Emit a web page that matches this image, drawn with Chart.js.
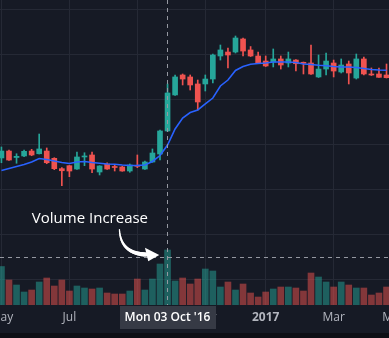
<!DOCTYPE html>
<html><head><meta charset="utf-8">
<script src="https://cdn.jsdelivr.net/npm/chart.js@4/dist/chart.umd.min.js"></script>
<style>
html,body{margin:0;padding:0;background:#0d0f15;overflow:hidden;width:389px;height:338px;}
#c{display:block;}
</style></head><body>
<canvas id="c" width="389" height="333"></canvas>
<script>
// Weekly bars (Mondays)
const weeks = ['2016-05-02','2016-05-09','2016-05-16','2016-05-23','2016-05-30','2016-06-06','2016-06-13','2016-06-20','2016-06-27',
'2016-07-04','2016-07-11','2016-07-18','2016-07-25','2016-08-01','2016-08-08','2016-08-15','2016-08-22','2016-08-29',
'2016-09-05','2016-09-12','2016-09-19','2016-09-26','2016-10-03','2016-10-10','2016-10-17','2016-10-24','2016-10-31',
'2016-11-07','2016-11-14','2016-11-21','2016-11-28','2016-12-05','2016-12-12','2016-12-19','2016-12-26',
'2017-01-02','2017-01-09','2017-01-16','2017-01-23','2017-01-30','2017-02-06','2017-02-13','2017-02-20','2017-02-27',
'2017-03-06','2017-03-13','2017-03-20','2017-03-27','2017-04-03','2017-04-10','2017-04-17','2017-04-24','2017-05-01'];

const opens  = [23.56,24.33,23.61,23.78,24.33,24.03,24.33,23.52,22.37,22.70,22.33,23.67,23.89,22.00,22.89,22.59,22.56,22.11,22.74,22.33,23.11,24.00,26.56,30.56,32.78,32.56,31.78,31.78,32.33,34.89,35.33,35.33,36.78,35.56,34.89,34.33,34.22,34.56,34.11,34.44,34.19,34.11,32.56,33.44,34.11,33.11,34.00,32.44,34.56,32.89,32.89,32.78];
const highs  = [24.78,24.44,24.03,24.44,24.52,26.22,24.67,23.59,22.48,22.72,24.22,24.14,24.22,22.70,23.03,22.78,22.63,22.89,23.89,23.22,24.56,26.67,31.78,32.78,32.89,32.78,32.22,32.78,35.11,36.11,35.78,37.11,36.89,35.94,35.33,34.89,35.67,34.89,35.33,34.50,34.22,36.11,35.00,35.22,34.44,34.56,34.33,35.11,34.78,33.56,33.56,34.00];
const lows   = [23.03,23.28,22.97,23.70,23.81,24.00,22.92,22.26,20.48,21.48,22.30,22.70,21.92,21.67,22.30,22.11,22.08,21.97,22.48,22.30,23.08,23.33,26.50,30.50,31.67,31.11,28.89,31.00,31.89,34.44,33.56,35.22,34.89,34.83,34.06,33.72,33.67,33.44,33.67,33.22,32.89,32.83,32.50,32.78,32.56,33.00,31.78,32.33,32.78,32.72,32.50,32.44];
const closes = [24.33,23.33,23.74,24.30,23.89,24.56,23.03,22.37,22.14,22.11,23.67,23.78,22.33,22.67,22.33,22.50,22.11,22.78,22.63,23.11,24.11,26.56,30.78,32.56,32.33,31.67,29.78,32.33,35.00,35.56,35.00,36.89,35.44,34.89,34.11,33.78,34.56,33.89,34.56,34.03,34.08,32.89,33.44,34.33,33.22,33.89,33.00,34.56,32.89,32.78,32.52,32.48];
const volumes = [7.7,5.0,4.0,2.6,3.0,4.6,5.4,3.8,5.0,2.8,3.8,3.4,3.2,3.4,2.4,2.2,2.2,2.8,5.2,3.0,5.2,8.2,11.0,4.8,5.4,4.2,5.2,7.2,6.8,3.6,4.6,3.0,4.2,2.4,1.6,2.6,3.2,3.6,3.6,3.4,2.8,6.4,5.6,4.6,3.6,4.6,4.0,3.4,3.4,2.0,2.4,3.6];
const movingAvg = [22.17,22.39,22.61,22.83,23.11,23.50,23.39,23.22,23.06,22.94,23.11,23.17,23.06,22.97,22.89,22.86,22.78,22.72,22.74,22.78,23.17,23.83,25.00,26.78,28.00,28.61,28.89,29.56,30.22,31.56,32.22,33.28,33.72,33.97,34.06,34.11,34.22,34.22,34.22,34.17,34.00,33.94,33.86,33.80,33.72,33.67,33.67,33.61,33.50,33.39,33.33,33.30];

const tickWeeks  = ['2016-05-02','2016-07-04','2016-09-05','2016-11-07','2017-01-02','2017-03-06','2017-05-01'];
const tickLabels = ['May','Jul','Sep','Nov','2017','Mar','May'];
const boldLabels = ['2017'];
const priceGrid  = [10,15,20,25,30,35,40];

const crosshairWeek = '2016-10-03';
const crosshairLabel = "Mon 03 Oct '16";
const crosshairVolume = 9.6;
const noteText = 'Volume Increase';
const noteWeek = '2016-10-03';
const noteVolume = 10;

const UP = '#26a69a', DOWN = '#ef5350';
const UPV = 'rgba(38,166,154,0.5)', DOWNV = 'rgba(239,83,80,0.5)';
const BG = '#161a25', GRID = '#252935', AXIS_TEXT = '#b2b5be';
const FONT = "'Open Sans', 'DejaVu Sans', sans-serif";

const idx = opens.map((_, i) => i);
const isUp = idx.map(i => closes[i] >= opens[i]);

const bgPlugin = {
  id: 'bg',
  beforeDraw(chart) {
    const c = chart.ctx;
    c.save(); c.fillStyle = BG; c.fillRect(0, 0, chart.width, chart.height); c.restore();
  }
};

const overlay = {
  id: 'overlay',
  afterDatasetsDraw(chart) {
    const { ctx, chartArea: a, scales } = chart;
    const x = scales.x, v = scales.v;
    const cx = Math.round(x.getPixelForValue(weeks.indexOf(crosshairWeek)) - 0.5) + 0.5;
    const cy = Math.round(v.getPixelForValue(crosshairVolume) - 0.5) + 0.5;
    ctx.save();
    ctx.strokeStyle = '#9598a1'; ctx.lineWidth = 1; ctx.setLineDash([4, 4]);
    ctx.beginPath(); ctx.moveTo(cx, a.top); ctx.lineTo(cx, a.bottom); ctx.stroke();
    ctx.beginPath(); ctx.moveTo(a.left, cy); ctx.lineTo(a.right, cy); ctx.stroke();
    ctx.setLineDash([]);

    // annotation
    const tx = x.getPixelForValue(weeks.indexOf(noteWeek)) - 8.3;
    const ty = v.getPixelForValue(noteVolume);
    ctx.fillStyle = '#ffffff';
    ctx.font = '15px ' + FONT;
    ctx.textAlign = 'center'; ctx.textBaseline = 'alphabetic';
    ctx.fillText(noteText, tx - 69.3, ty - 32.5);

    const S = [tx - 39.8, ty - 25.5], C = [tx - 38.8, ty - 1.5], E = [tx - 13.3, ty - 0.5];
    ctx.strokeStyle = '#ffffff'; ctx.lineCap = 'round';
    const N = 24;
    let prev = S;
    for (let i = 1; i <= N; i++) {
      const t = i / N;
      const p = [
        (1 - t) * (1 - t) * S[0] + 2 * (1 - t) * t * C[0] + t * t * E[0],
        (1 - t) * (1 - t) * S[1] + 2 * (1 - t) * t * C[1] + t * t * E[1]
      ];
      ctx.lineWidth = 1.1 + 3.2 * t;
      ctx.beginPath(); ctx.moveTo(prev[0], prev[1]); ctx.lineTo(p[0], p[1]); ctx.stroke();
      prev = p;
    }
    ctx.beginPath();
    ctx.moveTo(tx, ty);
    ctx.lineTo(tx - 14.3, ty - 7.2);
    ctx.lineTo(tx - 11, ty + 6.2);
    ctx.closePath(); ctx.fill();
    ctx.restore();
  },
  afterDraw(chart) {
    const { ctx, chartArea: a, scales } = chart;
    const cx = scales.x.getPixelForValue(weeks.indexOf(crosshairWeek));
    ctx.save();
    ctx.fillStyle = '#363a45';
    ctx.fillRect(Math.round(cx - 48), a.bottom + 1, 96, 23);
    ctx.fillStyle = '#ffffff';
    ctx.font = '600 12px ' + FONT;
    ctx.textAlign = 'center'; ctx.textBaseline = 'middle';
    ctx.fillText(crosshairLabel, cx, a.bottom + 13);
    ctx.restore();
  }
};

new Chart(document.getElementById('c'), {
  type: 'bar',
  data: {
    datasets: [
      {
        type: 'line', label: 'MA', order: 1, yAxisID: 'y',
        data: idx.map(i => ({ x: i, y: movingAvg[i] })),
        borderColor: '#2962ff', borderWidth: 1.6, pointRadius: 0, tension: 0, fill: false
      },
      {
        label: 'body', order: 2, yAxisID: 'y', grouped: false,
        data: idx.map(i => ({ x: i, y: [opens[i], closes[i]] })),
        backgroundColor: c => isUp[c.dataIndex] ? UP : DOWN,
        barThickness: 5, minBarLength: 1, borderWidth: 0
      },
      {
        label: 'wick', order: 3, yAxisID: 'y', grouped: false,
        data: idx.map(i => ({ x: i, y: [lows[i], highs[i]] })),
        backgroundColor: c => isUp[c.dataIndex] ? UP : DOWN,
        barThickness: 1, borderWidth: 0
      },
      {
        label: 'volume', order: 4, yAxisID: 'v', grouped: false,
        data: idx.map(i => ({ x: i, y: volumes[i] })),
        backgroundColor: c => isUp[c.dataIndex] ? UPV : DOWNV,
        barThickness: 6, borderWidth: 0
      }
    ]
  },
  options: {
    responsive: false, animation: false, devicePixelRatio: 1, events: [],
    layout: { padding: 0, autoPadding: false },
    plugins: { legend: { display: false }, tooltip: { enabled: false } },
    scales: {
      x: {
        type: 'linear', min: -0.19, max: 51.33, offset: false, bounds: 'data',
        grid: { color: GRID, drawTicks: false, offset: false },
        border: { display: false },
        afterBuildTicks: s => { s.ticks = tickWeeks.map(w => ({ value: weeks.indexOf(w) })); },
        afterFit: s => { s.paddingLeft = 0; s.paddingRight = 0; s.height = 28; },
        ticks: {
          autoSkip: false, maxRotation: 0, minRotation: 0, padding: 5, color: AXIS_TEXT,
          font: c => ({ family: FONT, size: 12, weight: (c.tick && boldLabels.includes(tickLabels[tickWeeks.indexOf(weeks[c.tick.value])])) ? 'bold' : 'normal' }),
          callback: val => tickLabels[tickWeeks.indexOf(weeks[val])]
        }
      },
      y: {
        type: 'linear', position: 'left', min: 7.2222, max: 41.1111, bounds: 'data',
        grid: { color: GRID, drawTicks: false },
        border: { display: false },
        ticks: { display: false },
        afterBuildTicks: s => { s.ticks = priceGrid.map(p => ({ value: p })); },
        afterFit: s => { s.width = 0; s.paddingTop = 0; s.paddingBottom = 0; }
      },
      v: { type: 'linear', position: 'right', display: false, min: 0, max: 61 }
    }
  },
  plugins: [bgPlugin, overlay]
});
</script>
</body></html>
